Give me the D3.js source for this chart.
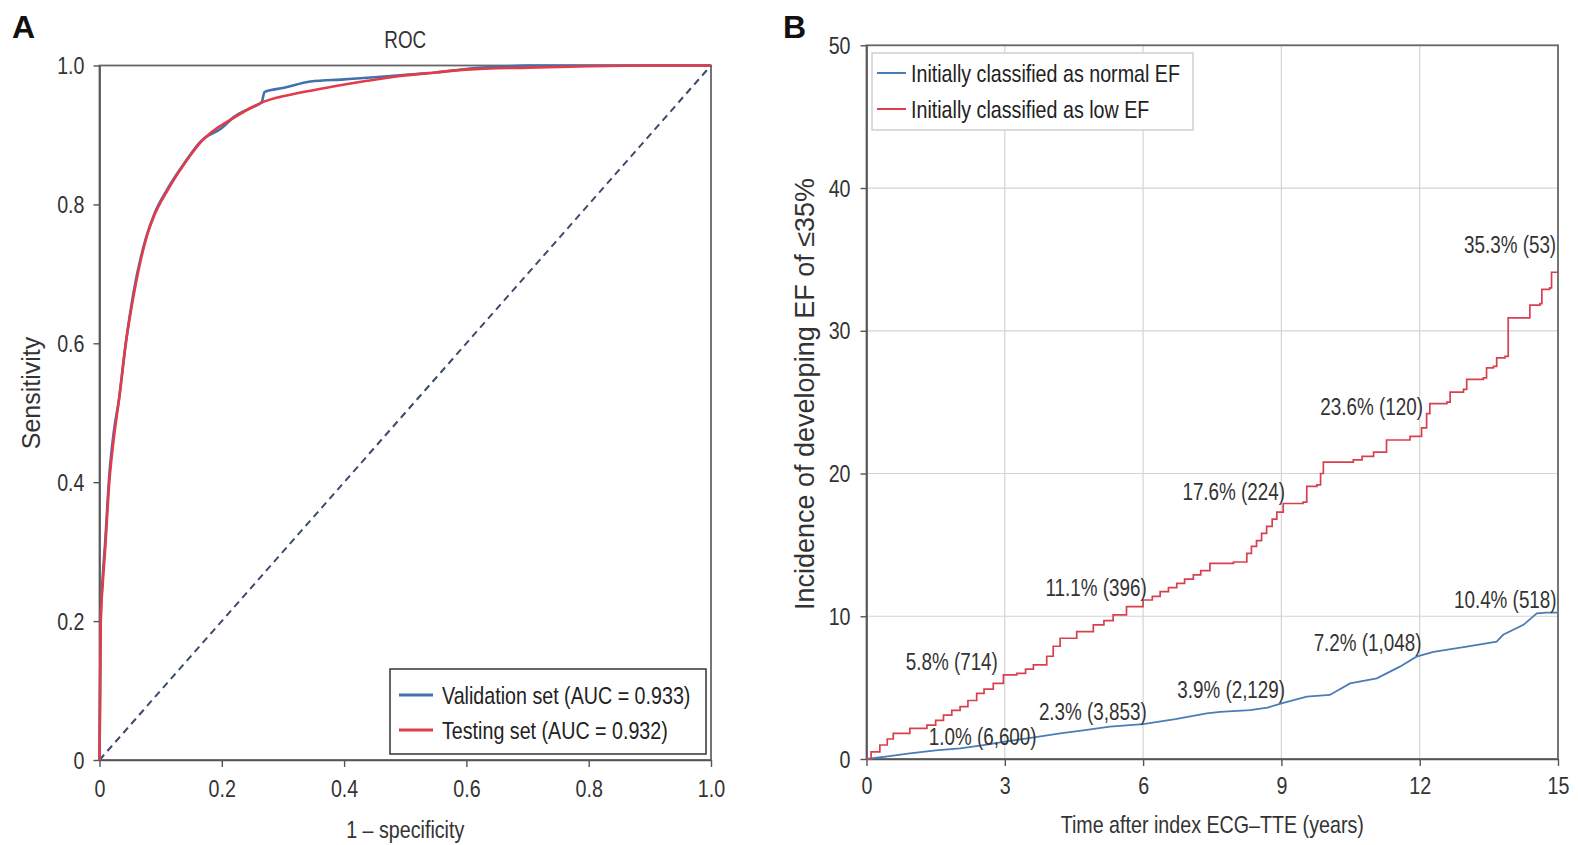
<!DOCTYPE html>
<html><head><meta charset="utf-8">
<script src="https://cdn.jsdelivr.net/npm/d3@7"></script>
<style>body{margin:0;background:#fff}svg{display:block}</style>
</head><body>
<svg id="c" width="1578" height="845"></svg>
<script>
// ---------------- DATA ----------------
// Panel A: ROC curves
const rocValFpr  = [0,0.001,0.002,0.005,0.009,0.016,0.023,0.032,0.043,0.055,0.076,0.09,0.111,0.14,0.166,0.2,0.22,0.25,0.265,0.27,0.302,0.345,0.4,0.45,0.492,0.55,0.6,0.65,0.7,1.0];
const rocValTpr  = [0,0.1,0.2,0.26,0.31,0.41,0.47,0.52,0.6,0.67,0.752,0.787,0.822,0.861,0.891,0.91,0.926,0.94,0.947,0.962,0.968,0.977,0.98,0.983,0.986,0.99,0.995,0.998,1.0,1.0];
const rocTestFpr = [0,0.001,0.002,0.005,0.009,0.016,0.023,0.032,0.043,0.055,0.076,0.09,0.111,0.14,0.166,0.22,0.269,0.329,0.384,0.438,0.492,0.55,0.6,0.7,0.8,0.9,1.0];
const rocTestTpr = [0,0.1,0.2,0.25,0.3,0.4,0.46,0.52,0.6,0.665,0.75,0.785,0.82,0.86,0.89,0.925,0.948,0.961,0.970,0.978,0.985,0.99,0.994,0.997,0.999,1.0,1.0];
const rocLegend  = ["Validation set (AUC = 0.933)", "Testing set (AUC = 0.932)"];
const rocTicks   = [0,0.2,0.4,0.6,0.8,1.0];

// Panel B: cumulative incidence
const lowYears   = [0,0.1,0.29,0.45,0.58,0.94,1.31,1.5,1.67,1.85,2.03,2.2,2.39,2.55,2.75,2.97,3.26,3.45,3.62,3.91,4.05,4.2,4.56,4.92,5.15,5.35,5.64,6.0,6.2,6.37,6.55,6.73,6.9,7.09,7.25,7.45,7.96,8.25,8.35,8.46,8.57,8.68,8.8,8.9,9.04,9.47,9.55,9.77,9.85,9.91,10.56,10.75,11.0,11.28,11.79,12.04,12.15,12.22,12.59,12.66,12.95,13.02,13.38,13.45,13.6,13.67,13.85,13.92,14.36,14.39,14.61,14.65,14.82,14.86,15.0];
const lowInc     = [0,0.5,0.98,1.4,1.8,2.15,2.38,2.7,3.08,3.4,3.67,4.1,4.6,4.9,5.3,5.9,6.0,6.3,6.6,7.2,7.9,8.46,8.92,9.4,9.7,10.1,10.67,11.14,11.4,11.73,12.0,12.3,12.6,12.9,13.2,13.7,13.8,14.4,14.9,15.3,15.8,16.3,16.8,17.3,17.9,18.0,19.1,19.2,20.0,20.8,20.95,21.2,21.5,22.35,22.6,23.2,24.2,24.9,25.0,25.7,25.9,26.6,26.7,27.4,27.5,28.1,28.2,30.9,30.9,31.8,31.9,32.9,33.0,34.1,34.1];
const normalYears= [0,0.5,0.94,1.5,2.03,2.5,2.97,3.6,4.2,4.7,5.28,6.0,6.7,7.38,7.67,8.32,8.7,9.0,9.55,10.05,10.49,11.07,11.57,11.93,12.3,13.02,13.67,13.81,14.25,14.54,14.75,15.0];
const normalInc  = [0,0.2,0.4,0.6,0.75,0.95,1.2,1.5,1.8,2.0,2.27,2.45,2.8,3.2,3.3,3.43,3.6,3.9,4.37,4.49,5.3,5.65,6.47,7.17,7.5,7.87,8.22,8.7,9.4,10.2,10.25,10.25];
const kmLegend   = ["Initially classified as normal EF", "Initially classified as low EF"];
const kmXTicks   = [0,3,6,9,12,15];
const kmYTicks   = [0,10,20,30,40,50];
const annText    = ["5.8% (714)","1.0% (6,600)","11.1% (396)","2.3% (3,853)","17.6% (224)","3.9% (2,129)","23.6% (120)","7.2% (1,048)","35.3% (53)","10.4% (518)"];
const annYear    = [2.85,3.69,6.08,6.08,9.08,9.08,12.07,12.04,14.96,14.97];
const annValue   = [6.24,0.98,11.42,2.73,18.15,4.27,24.1,7.57,35.46,10.58];

// ---------------- DRAWING ----------------
const SQ = 0.82;               // condensed text look
const FONT = "'Liberation Sans', Arial, Helvetica, sans-serif";
const TXT = "#333";
const BLUE = "#3f73ad", RED = "#e23b4a";
const BLUE2 = "#4a7db5", RED2 = "#d9404f";

const svg = d3.select("#c").attr("font-family", FONT);
svg.append("rect").attr("width",1578).attr("height",845).attr("fill","#fff");

function sText(g, x, y, str, anchor, size) {
  return g.append("text")
    .attr("transform", `translate(${x},${y}) scale(${SQ},1)`)
    .attr("text-anchor", anchor || "start")
    .attr("font-size", size || 24)
    .attr("fill", TXT)
    .text(str);
}

function styleAxis(g, isLeft, off) {
  g.attr("font-family", FONT).attr("font-size", 24);
  g.select(".domain").attr("stroke", "#555").attr("stroke-width", 1.6);
  g.selectAll(".tick line").attr("stroke", "#555").attr("stroke-width", 1.4);
  const tx = g.selectAll(".tick text").attr("fill", TXT).attr("transform", `scale(${SQ},1)`);
  if (isLeft) tx.attr("x", -off / SQ).attr("dy", "0.34em");
  else tx.attr("y", off).attr("dy", "0.71em");
}

// ===== Panel A =====
const xA = d3.scaleLinear().domain([0,1]).range([99.5,711]);
const yA = d3.scaleLinear().domain([0,1]).range([760,65.5]);
const gA = svg.append("g");

gA.append("rect").attr("x", xA(0)).attr("y", yA(1)).attr("width", xA(1)-xA(0)).attr("height", yA(0)-yA(1))
  .attr("fill","none").attr("stroke","#666").attr("stroke-width",1.8);

const fmtA = d => d === 0 ? "0" : d.toFixed(1);
gA.append("g").attr("transform", `translate(0,${yA(0)})`)
  .call(d3.axisBottom(xA).tickValues(rocTicks).tickFormat(fmtA).tickSize(7).tickSizeOuter(0))
  .call(g => styleAxis(g, false, 20));
gA.append("g").attr("transform", `translate(${xA(0)},0)`)
  .call(d3.axisLeft(yA).tickValues(rocTicks).tickFormat(fmtA).tickSize(6).tickSizeOuter(0))
  .call(g => styleAxis(g, true, 15));

// diagonal
gA.append("line").attr("x1", xA(0)).attr("y1", yA(0)).attr("x2", xA(1)).attr("y2", yA(1))
  .attr("stroke", "#3d4a6b").attr("stroke-width", 2).attr("stroke-dasharray", "7,5");

const lineA = d3.line().x(d => xA(d[0])).y(d => yA(d[1])).curve(d3.curveMonotoneX);
gA.append("path").datum(rocValFpr.map((f,i)=>[f,rocValTpr[i]]))
  .attr("d", lineA).attr("fill","none").attr("stroke", BLUE).attr("stroke-width", 2.6);
gA.append("path").datum(rocTestFpr.map((f,i)=>[f,rocTestTpr[i]]))
  .attr("d", lineA).attr("fill","none").attr("stroke", RED).attr("stroke-width", 2.6);

sText(gA, (xA(0)+xA(1))/2, 48, "ROC", "middle", 23);
sText(gA, (xA(0)+xA(1))/2, 838, "1 – specificity", "middle", 24);
gA.append("text").attr("transform", "translate(40,393) rotate(-90)")
  .attr("text-anchor","middle").attr("font-size",25).attr("fill",TXT).text("Sensitivity");
gA.append("text").attr("x", 12).attr("y", 38).attr("font-size", 32).attr("font-weight","bold")
  .attr("fill","#111").text("A");

// legend A
const lgA = gA.append("g");
lgA.append("rect").attr("x",390).attr("y",669).attr("width",316).attr("height",85)
  .attr("fill","#fff").attr("stroke","#333").attr("stroke-width",1.5);
[BLUE, RED].forEach((c,i) => {
  const yy = 695 + i*35;
  lgA.append("line").attr("x1",399).attr("x2",433).attr("y1",yy).attr("y2",yy).attr("stroke",c).attr("stroke-width",3);
  sText(lgA, 442, yy+8.5, rocLegend[i], "start", 24).attr("fill","#222");
});

// ===== Panel B =====
const xB = d3.scaleLinear().domain([0,15]).range([866.5,1558]);
const yB = d3.scaleLinear().domain([0,50]).range([759,45.3]);
const gB = svg.append("g");

// grid
gB.append("g").selectAll("line").data(kmXTicks.slice(1,-1)).join("line")
  .attr("x1", d=>xB(d)).attr("x2", d=>xB(d)).attr("y1", yB(0)).attr("y2", yB(50))
  .attr("stroke","#d4d4d4").attr("stroke-width",1.2);
gB.append("g").selectAll("line").data(kmYTicks.slice(1,-1)).join("line")
  .attr("x1", xB(0)).attr("x2", xB(15)).attr("y1", d=>yB(d)).attr("y2", d=>yB(d))
  .attr("stroke","#d4d4d4").attr("stroke-width",1.2);

gB.append("rect").attr("x", xB(0)).attr("y", yB(50)).attr("width", xB(15)-xB(0)).attr("height", yB(0)-yB(50))
  .attr("fill","none").attr("stroke","#666").attr("stroke-width",1.8);

gB.append("g").attr("transform", `translate(0,${yB(0)})`)
  .call(d3.axisBottom(xB).tickValues(kmXTicks).tickSize(7).tickSizeOuter(0))
  .call(g => styleAxis(g, false, 18));
gB.append("g").attr("transform", `translate(${xB(0)},0)`)
  .call(d3.axisLeft(yB).tickValues(kmYTicks).tickSize(6).tickSizeOuter(0))
  .call(g => styleAxis(g, true, 16));

const lineStep = d3.line().x(d => xB(d[0])).y(d => yB(d[1])).curve(d3.curveStepAfter);
const lineLin  = d3.line().x(d => xB(d[0])).y(d => yB(d[1]));
gB.append("path").datum(normalYears.map((t,i)=>[t,normalInc[i]]))
  .attr("d", lineLin).attr("fill","none").attr("stroke", BLUE2).attr("stroke-width", 1.8);
gB.append("path").datum(lowYears.map((t,i)=>[t,lowInc[i]]))
  .attr("d", lineStep).attr("fill","none").attr("stroke", RED2).attr("stroke-width", 1.7);

annText.forEach((s,i) => sText(gB, xB(annYear[i]), yB(annValue[i]), s, "end", 23));

sText(gB, (xB(0)+xB(15))/2, 833, "Time after index ECG–TTE (years)", "middle", 24);
gB.append("text").attr("transform", "translate(814,394) rotate(-90)")
  .attr("text-anchor","middle").attr("font-size",27).attr("fill",TXT).text("Incidence of developing EF of ≤35%");
gB.append("text").attr("x", 783).attr("y", 38).attr("font-size", 32).attr("font-weight","bold")
  .attr("fill","#111").text("B");

// legend B
const lgB = gB.append("g");
lgB.append("rect").attr("x",872).attr("y",53).attr("width",321).attr("height",77)
  .attr("fill","#fff").attr("stroke","#cfcfcf").attr("stroke-width",1.5);
[BLUE2, RED2].forEach((c,i) => {
  const yy = 73 + i*36;
  lgB.append("line").attr("x1",877).attr("x2",906).attr("y1",yy).attr("y2",yy).attr("stroke",c).attr("stroke-width",2);
  sText(lgB, 911, yy+8.5, kmLegend[i], "start", 24).attr("fill","#222");
});
</script>
</body></html>
